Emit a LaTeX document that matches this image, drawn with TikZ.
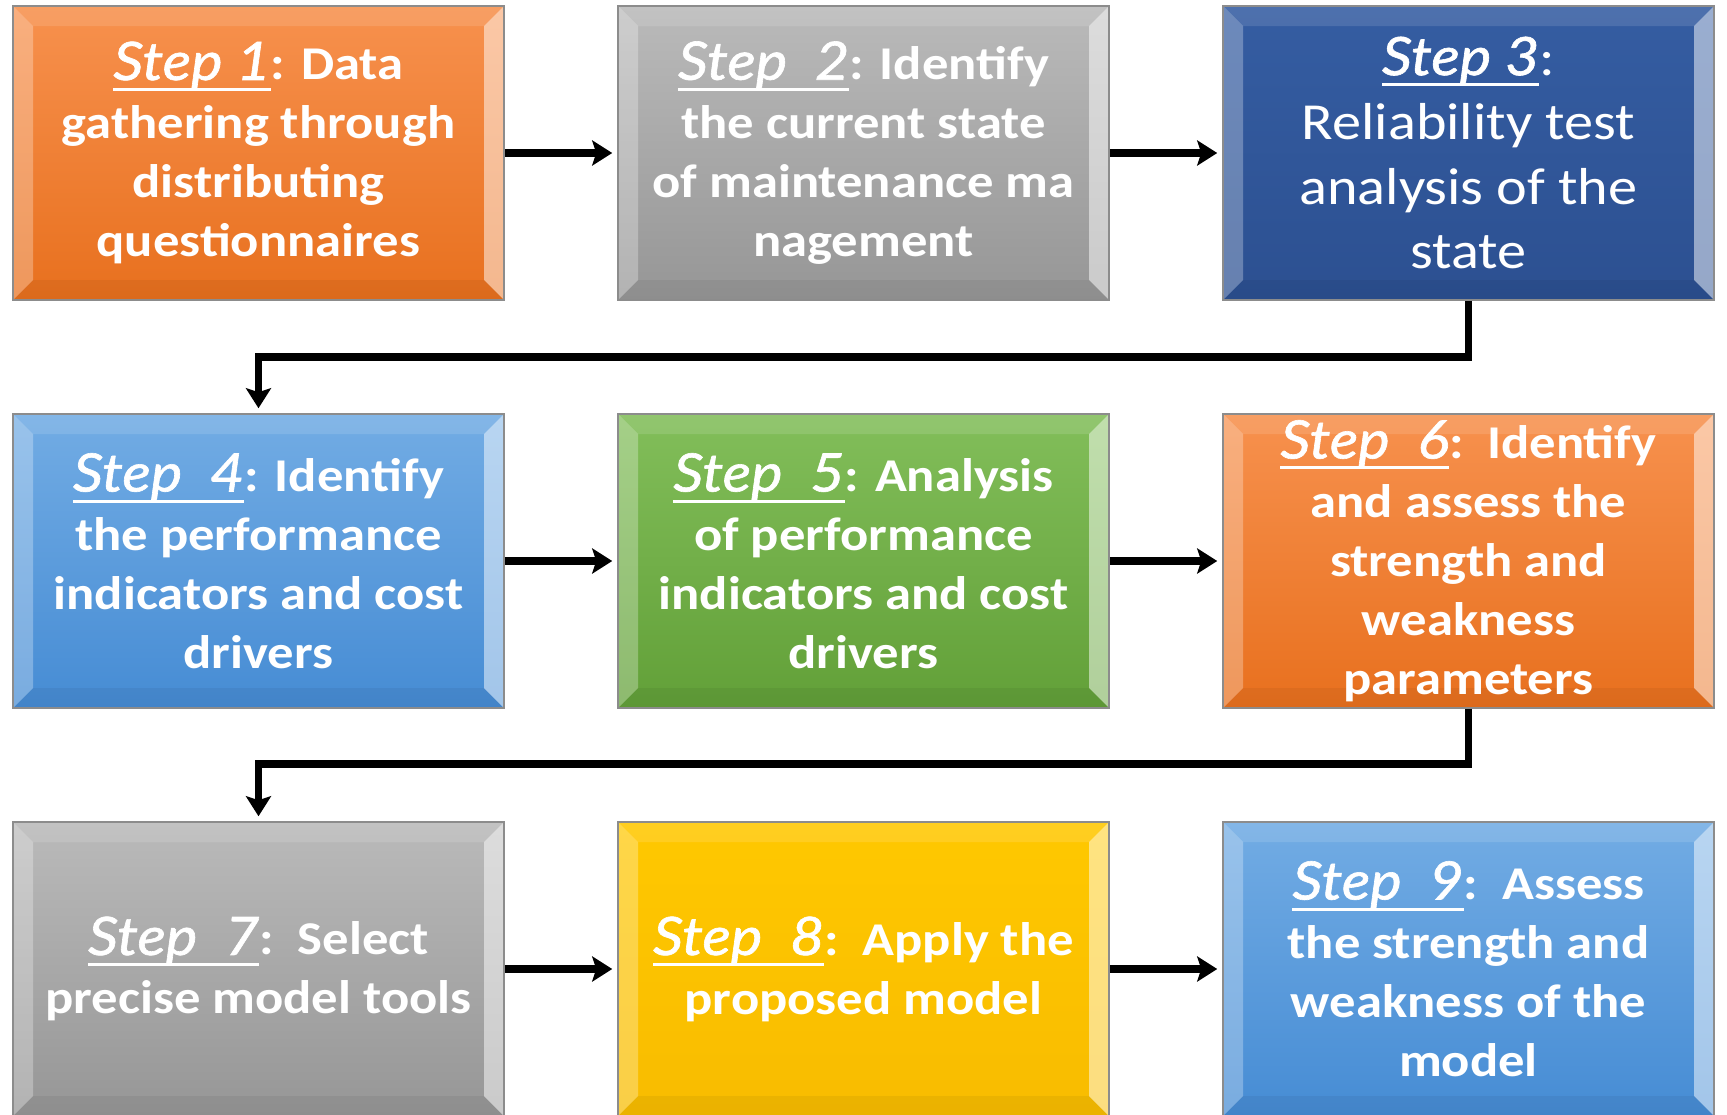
\documentclass[tikz,border=0pt]{standalone}
\usepackage{fontspec}
\setmainfont{Carlito}[FakeStretch=1.12]
\newfontfamily\stepfont{Lato}[FakeStretch=1.12,FakeBold=1.2]
\usetikzlibrary{arrows.meta,shadings}

\definecolor{or1}{RGB}{247,145,78}
\definecolor{or2}{RGB}{232,112,30}
\definecolor{gr1}{RGB}{186,186,186}
\definecolor{gr2}{RGB}{150,150,150}
\definecolor{db1}{RGB}{53,93,162}
\definecolor{db2}{RGB}{44,80,145}
\definecolor{lb1}{RGB}{114,172,228}
\definecolor{lb2}{RGB}{70,140,212}
\definecolor{gn1}{RGB}{130,190,90}
\definecolor{gn2}{RGB}{98,160,56}
\definecolor{ye1}{RGB}{255,200,0}
\definecolor{ye2}{RGB}{248,188,0}
\definecolor{boxline}{RGB}{140,140,140}

\newcommand\stp[1]{{\stepfont\itshape\mdseries\fontsize{53}{59}\selectfont\setbox0\hbox{#1}\rlap{\color{white}\rule[-11pt]{\wd0}{3pt}}\box0}}

\tikzset{
  bevel/.style={path picture={
    \fill[white,opacity=.28] (path picture bounding box.north west) -- ([shift={(20pt,-20pt)}]path picture bounding box.north west) -- ([shift={(20pt,20pt)}]path picture bounding box.south west) -- (path picture bounding box.south west) -- cycle;
    \fill[white,opacity=.5] (path picture bounding box.north east) -- ([shift={(-20pt,-20pt)}]path picture bounding box.north east) -- ([shift={(-20pt,20pt)}]path picture bounding box.south east) -- (path picture bounding box.south east) -- cycle;
    \fill[white,opacity=.12] (path picture bounding box.north west) -- (path picture bounding box.north east) -- ([shift={(-20pt,-20pt)}]path picture bounding box.north east) -- ([shift={(20pt,-20pt)}]path picture bounding box.north west) -- cycle;
    \fill[black,opacity=.05] (path picture bounding box.south west) -- (path picture bounding box.south east) -- ([shift={(-20pt,20pt)}]path picture bounding box.south east) -- ([shift={(20pt,20pt)}]path picture bounding box.south west) -- cycle;
  }},
  box/.style={draw=boxline, line width=1.5pt, minimum width=491pt, minimum height=294pt,
    inner sep=0pt, text=white, align=center, font=\bfseries\fontsize{47}{59}\selectfont, bevel},
  orangebox/.style={box, top color=or1, bottom color=or2},
  graybox/.style={box, top color=gr1, bottom color=gr2},
  darkbox/.style={box, top color=db1, bottom color=db2, font=\mdseries\fontsize{52}{64.6}\selectfont},
  bluebox/.style={box, top color=lb1, bottom color=lb2},
  greenbox/.style={box, top color=gn1, bottom color=gn2},
  yellowbox/.style={box, top color=ye1, bottom color=ye2},
  conn/.style={line width=7.5pt, line join=miter, -{Stealth[length=20pt,width=25pt,inset=4pt]}, shorten >=5pt}
}

\begin{document}
\begin{tikzpicture}[x=1pt,y=-1pt]
\useasboundingbox (0,0) rectangle (1727,1114);

\node[orangebox] (s1) at (258.5,153) {\stp{Step 1}: Data\\gathering through\\distributing\\questionnaires};
\node[graybox] (s2) at (863.5,153) {\stp{Step\ \ 2}: Identify\\the current state\\of maintenance ma\\nagement};
\node[darkbox] (s3) at (1468.5,153) {\stp{Step 3}:\\Reliability test\\analysis of the\\state};

\node[bluebox] (s4) at (258.5,561) {\stp{Step\ \ 4}: Identify\\the performance\\indicators and cost\\drivers};
\node[greenbox] (s5) at (863.5,561) {\stp{Step\ \ 5}: Analysis\\of performance\\indicators and cost\\drivers};
\node[orangebox] (s6) at (1468.5,561) {\stp{Step\ \ 6}:\ \ Identify\\and assess the\\strength and\\weakness\\parameters};

\node[graybox] (s7) at (258.5,969) {\stp{Step\ \ 7}:\ \ Select\\precise model tools};
\node[yellowbox] (s8) at (863.5,969) {\stp{Step\ \ 8}:\ \ Apply the\\proposed model};
\node[bluebox] (s9) at (1468.5,969) {\stp{Step\ \ 9}:\ \ Assess\\the strength and\\weakness of the\\model};

\draw[conn] (s1) -- (s2);
\draw[conn] (s2) -- (s3);
\draw[conn] (s4) -- (s5);
\draw[conn] (s5) -- (s6);
\draw[conn] (s7) -- (s8);
\draw[conn] (s8) -- (s9);
\draw[conn] (s3.south) -- ++(0,56) -| (s4.north);
\draw[conn] (s6.south) -- ++(0,55) -| (s7.north);
\end{tikzpicture}
\end{document}
